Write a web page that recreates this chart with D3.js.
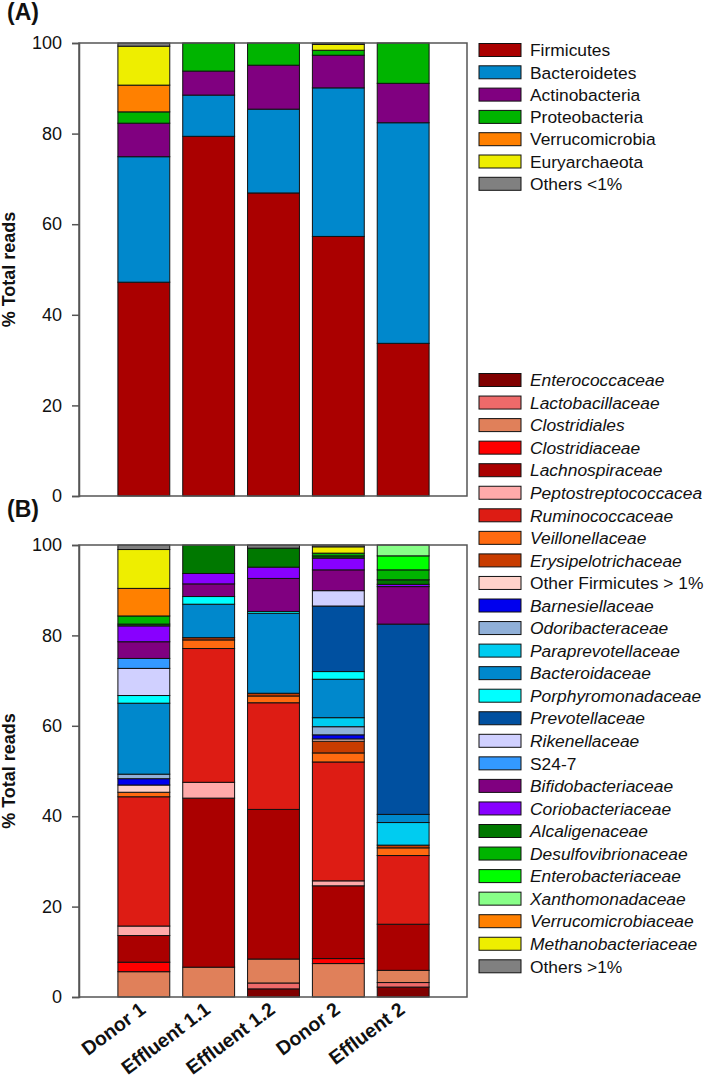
<!DOCTYPE html>
<html><head><meta charset="utf-8">
<script src="https://cdn.jsdelivr.net/npm/d3@7"></script>
<style>
body{margin:0;background:#fff}
svg{display:block}
text{font-family:"Liberation Sans",Arial,Helvetica,sans-serif;fill:#111}
</style>
</head><body>
<svg id="chart" width="709" height="1090"></svg>
<script>
// ---------------- DATA ----------------
const samples = ["Donor 1","Effluent 1.1","Effluent 1.2","Donor 2","Effluent 2"];
const yTicks = [0,20,40,60,80,100];

// Panel A: phyla (% of total reads)
const phyla = ["Firmicutes","Bacteroidetes","Actinobacteria","Proteobacteria","Verrucomicrobia","Euryarchaeota","Others <1%"];
const phylaColors = ["#AA0000","#0088CC","#800080","#00B400","#FF8000","#EEEE00","#808080"];
const firmicutes      = [47.2, 79.4, 66.9, 57.3, 33.7];
const bacteroidetes   = [27.7,  9.1, 18.5, 32.8, 48.7];
const actinobacteria  = [ 7.4,  5.3,  9.7,  7.2,  8.7];
const proteobacteria  = [ 2.5,  6.2,  4.9,  1.1,  8.9];
const verrucomicrobia = [ 5.9,  0,    0,    0,    0  ];
const euryarchaeota   = [ 8.6,  0,    0,    1.3,  0  ];
const othersPhyla     = [ 0.7,  0,    0,    0.3,  0  ];
const phylaValues = [firmicutes,bacteroidetes,actinobacteria,proteobacteria,verrucomicrobia,euryarchaeota,othersPhyla];

// Panel B: families (% of total reads)
const families = ["Enterococcaceae","Lactobacillaceae","Clostridiales","Clostridiaceae","Lachnospiraceae",
  "Peptostreptococcacea","Ruminococcaceae","Veillonellaceae","Erysipelotrichaceae","Other Firmicutes > 1%",
  "Barnesiellaceae","Odoribacteraceae","Paraprevotellaceae","Bacteroidaceae","Porphyromonadaceae",
  "Prevotellaceae","Rikenellaceae","S24-7","Bifidobacteriaceae","Coriobacteriaceae","Alcaligenaceae",
  "Desulfovibrionaceae","Enterobacteriaceae","Xanthomonadaceae","Verrucomicrobiaceae","Methanobacteriaceae","Others >1%"];
const familyColors = ["#800000","#EE6A6A","#E0805A","#FF0000","#AA0000",
  "#FFAAAA","#DD1C14","#FF6A10","#C83C00","#FFD2CA",
  "#0000EE","#90B0D8","#00CCF0","#0088CC","#00FFFF",
  "#0050A0","#D0D0FF","#3399FF","#800080","#8800FF","#007800",
  "#00B400","#00FF00","#88FF88","#FF8000","#EEEE00","#808080"];
const familyItalic = families.map(f => !(f === "Other Firmicutes > 1%" || f === "S24-7" || f === "Others >1%"));
// values in the order of `families`
const donor1Families     = [0,0,5.6,2.1,5.9, 2.1,28.6,1.0,0,1.6, 1.4,1.0,0,15.7,1.7, 0,6.0,2.2,3.7,3.5,0.4, 1.8,0,0,6.1,8.6,1.0];
const effluent11Families = [0,0,6.6,0,37.4, 3.5,29.6,1.9,0.5,0, 0,0,0,7.4,1.7, 0,0,0,2.8,2.3,6.3, 0,0,0,0,0,0];
const effluent12Families = [1.8,1.3,5.3,0,33.1, 0,23.6,1.5,0.6,0, 0,0,0,17.7,0.4, 0,0,0,7.3,2.5,4.2, 0,0,0,0,0,0.7];
const donor2Families     = [0,0,7.4,1.1,16.1, 1.1,26.3,2.0,2.6,0.5, 0.9,1.8,2.0,8.5,1.7, 14.5,3.4,0,4.6,2.6,0.5, 0.6,0,0,0,1.4,0.4];
const effluent2Families  = [2.2,1.0,2.7,0,10.2, 0,15.2,1.7,0.6,0, 0,0,5.0,1.8,0, 42.1,0,0,8.3,0.5,1.0, 2.2,3.1,2.4,0,0,0];
const familyValues = [donor1Families,effluent11Families,effluent12Families,donor2Families,effluent2Families];

// ---------------- CHART ----------------
const svg = d3.select("#chart");
const x = d3.scalePoint().domain(samples).range([79,468]).padding(1);
const barW = x.step()*0.8;
const yA = d3.scaleLinear().domain([0,100]).range([496,43]);
const yB = d3.scaleLinear().domain([0,100]).range([997,545]);

function drawPanel(y, keys, colors, rows, label, labelY){
  const table = samples.map((s,i) => {
    const o = {sample:s};
    keys.forEach((k,j) => o[k] = rows(i,j));
    return o;
  });
  const stacked = d3.stack().keys(keys)(table);
  const g = svg.append("g");
  stacked.forEach((layer,j) => {
    g.selectAll(null).data(layer.filter(d => d[1]-d[0] > 0)).enter().append("rect")
      .attr("x", d => x(d.data.sample) - barW/2)
      .attr("width", barW)
      .attr("y", d => y(d[1]))
      .attr("height", d => y(d[0]) - y(d[1]))
      .attr("fill", colors[j])
      .attr("stroke", "#111")
      .attr("stroke-width", 1);
  });
  // frame
  const r0 = x.range()[0];
  svg.append("rect").attr("x", r0).attr("y", y(100)).attr("width", 467-r0).attr("height", y(0)-y(100))
    .attr("fill","none").attr("stroke","#555").attr("stroke-width",1.5);
  const ax = svg.append("g").attr("transform", `translate(${r0},0)`)
    .call(d3.axisLeft(y).tickValues(yTicks).tickSize(7).tickPadding(10));
  ax.select(".domain").attr("stroke","#555").attr("stroke-width",1.5);
  ax.selectAll(".tick line").attr("stroke","#555").attr("stroke-width",1.5);
  ax.selectAll(".tick text").style("font-size","18px").style("font-family",'"Liberation Sans",Arial,sans-serif').attr("fill","#111");
  // y title
  svg.append("text").attr("transform", `translate(15,${(y(0)+y(100))/2}) rotate(-90)`)
    .attr("text-anchor","middle").style("font-size","18px").style("font-weight","bold").text("% Total reads");
  // panel label
  svg.append("text").attr("x",7).attr("y",labelY).style("font-size","23px").style("font-weight","bold").text(label);
}

drawPanel(yA, phyla, phylaColors, (i,j) => phylaValues[j][i], "(A)", 20);
drawPanel(yB, families, familyColors, (i,j) => familyValues[i][j], "(B)", 517);

// legends
function drawLegend(names, colors, italic, startY, step){
  const g = svg.append("g");
  names.forEach((n,i) => {
    const cy = startY + i*step;
    g.append("rect").attr("x",479).attr("y",cy-6.5).attr("width",42).attr("height",13)
      .attr("fill",colors[i]).attr("stroke","#111").attr("stroke-width",1);
    g.append("text").attr("x",530).attr("y",cy+6.2).style("font-size","17.4px")
      .style("font-style", italic[i] ? "italic" : "normal").attr("fill","#222").text(n);
  });
}
drawLegend(phyla, phylaColors, phyla.map(()=>false), 50, 22.3);
drawLegend(families, familyColors, familyItalic, 380, 22.55);

// x labels
svg.append("g").selectAll("text").data(samples).enter().append("text")
  .attr("transform", d => `translate(${x(d)+3},1012) rotate(-37)`)
  .attr("text-anchor","end").style("font-size","19.5px").style("font-weight","bold").text(d => d);
</script>
</body></html>
